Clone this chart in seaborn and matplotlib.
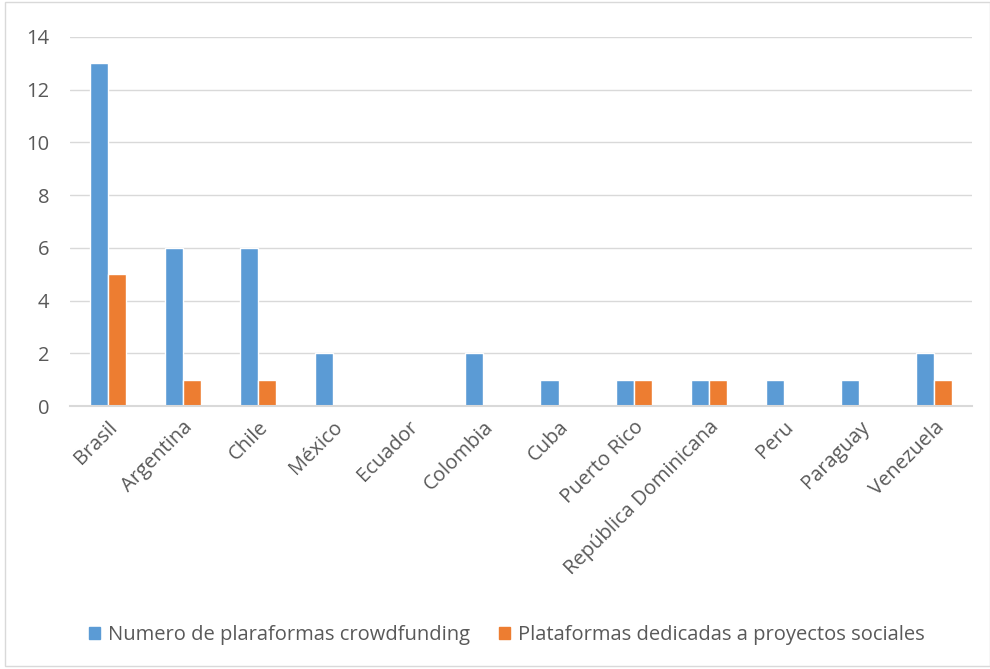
import matplotlib
matplotlib.use("Agg")
import matplotlib.pyplot as plt
import matplotlib.patches as mpatches
import pandas as pd
import seaborn as sns

# ── Data ──────────────────────────────────────────────────────────────────────
countries = ["Brasil", "Argentina", "Chile", "México", "Ecuador", "Colombia",
             "Cuba", "Puerto Rico", "República Dominicana", "Peru", "Paraguay",
             "Venezuela"]
total_platforms = [13, 6, 6, 2, 0, 2, 1, 1, 1, 1, 1, 2]
social_platforms = [5, 1, 1, 0, 0, 0, 0, 1, 1, 0, 0, 1]
series_names = ["Numero de plaraformas crowdfunding",
                "Plataformas dedicadas a proyectos sociales"]
y_ticks = [0, 2, 4, 6, 8, 10, 12, 14]

colors = ["#5B9BD5", "#ED7D31"]
TEXT = "#595959"
GRID = "#D9D9D9"

sns.set_style("white")
plt.rcParams["font.family"] = ["Open Sans", "DejaVu Sans"]

df = pd.DataFrame({
    "country": countries * 2,
    "value": total_platforms + social_platforms,
    "series": [series_names[0]] * len(countries) + [series_names[1]] * len(countries),
})

fig = plt.figure(figsize=(9.9, 6.69), dpi=100)
ax = fig.add_axes([0.0707, 0.393, 0.911, 0.552])

sns.barplot(data=df, x="country", y="value", hue="series", order=countries,
            hue_order=series_names, palette=colors, width=0.48, gap=0,
            saturation=1, legend=False, ax=ax, zorder=3)

ax.set_ylim(0, 14)
ax.set_yticks(y_ticks)
ax.set_xlim(-0.5, len(countries) - 0.5)
ax.grid(axis="y", color=GRID, linewidth=1, zorder=0)
for s in ["top", "right", "left"]:
    ax.spines[s].set_visible(False)
ax.spines["bottom"].set_color(GRID)
ax.spines["bottom"].set_linewidth(1.5)
ax.spines["bottom"].set_zorder(4)
ax.set_xlabel("")
ax.set_ylabel("")
ax.tick_params(axis="both", length=0, colors=TEXT, labelsize=14.5)
ax.tick_params(axis="y", pad=15)
ax.tick_params(axis="x", pad=8)
plt.setp(ax.get_xticklabels(), rotation=45, ha="right", rotation_mode="anchor")

handles = [mpatches.Patch(color=c, label=n) for c, n in zip(colors, series_names)]
fig.legend(handles=handles, loc="center", bbox_to_anchor=(0.512, 0.051), ncol=2,
           frameon=False, fontsize=14.5, labelcolor=TEXT, handlelength=0.55,
           handleheight=0.55, handletextpad=0.4, columnspacing=1.4)

# light frame around the chart area
fig.add_artist(mpatches.Rectangle((0.005, 0.004), 0.995, 0.993,
                                  transform=fig.transFigure, fill=False,
                                  edgecolor="#D9D9D9", linewidth=1))

fig.savefig("out.png", dpi=100)
plt.close(fig)
